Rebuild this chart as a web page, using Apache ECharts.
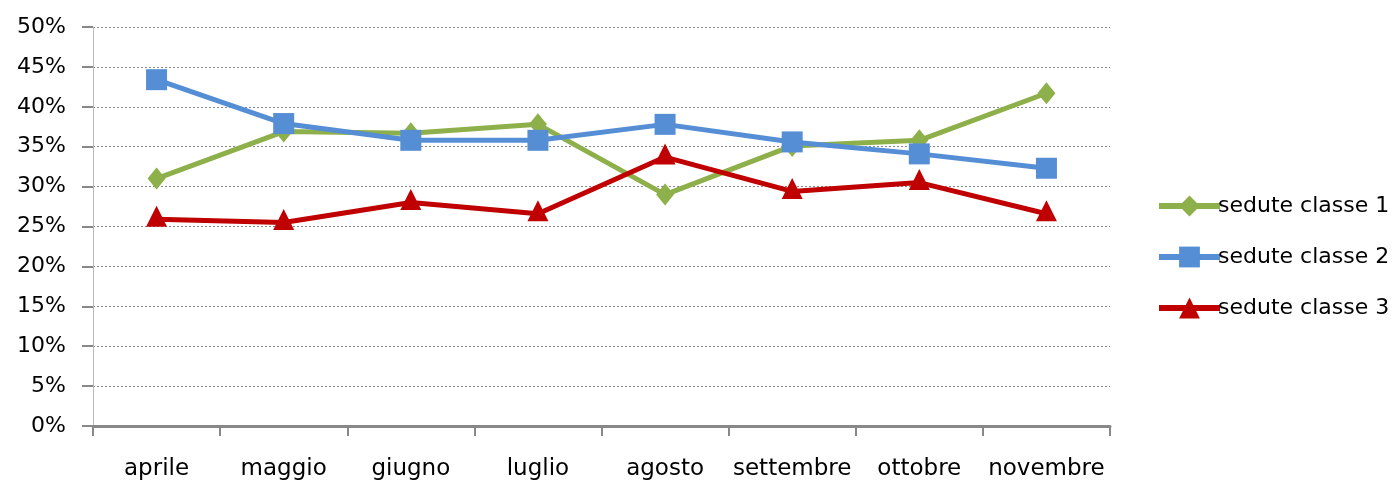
<!DOCTYPE html>
<html>
<head>
<meta charset="utf-8">
<script src="https://cdn.jsdelivr.net/npm/echarts@6/dist/echarts.min.js"></script>
<style>
  html, body { margin: 0; padding: 0; background: #fff; }
  #main { width: 1394px; height: 484px; }
</style>
</head>
<body>
<div id="main"></div>
<script>
// mesi
var months = ["aprile", "maggio", "giugno", "luglio", "agosto", "settembre", "ottobre", "novembre"];
// percentuali
var classe1 = [31.0, 36.9, 36.7, 37.8, 29.0, 35.1, 35.8, 41.7];
var classe2 = [43.4, 37.9, 35.8, 35.8, 37.8, 35.6, 34.1, 32.3];
var classe3 = [25.9, 25.5, 28.0, 26.6, 33.7, 29.4, 30.5, 26.6];

var myChart = echarts.init(document.getElementById("main"));
var font = "DejaVu Sans";

myChart.setOption({
  animation: false,
  textStyle: { fontFamily: font },
  grid: { left: 93, right: 284, top: 27, bottom: 58 },
  legend: {
    orient: "vertical",
    left: 1151,
    top: 190,
    itemWidth: 61,
    itemHeight: 26,
    itemGap: 29,
    lineStyle: { width: 6 },
    textStyle: { fontSize: 22, color: "#000", fontFamily: font, padding: [0, 0, 0, -7] },
    data: ["sedute classe 1", "sedute classe 2", "sedute classe 3"]
  },
  xAxis: {
    type: "category",
    data: months,
    boundaryGap: true,
    axisLine: { lineStyle: { color: "#888", width: 3 } },
    axisTick: { show: true, interval: 0, length: 10, lineStyle: { color: "#888", width: 2 } },
    axisLabel: { interval: 0, fontSize: 23, color: "#000", margin: 32, fontFamily: font }
  },
  yAxis: {
    type: "value",
    min: 0,
    max: 50,
    interval: 5,
    axisLine: { show: true, lineStyle: { color: "#bbb", width: 1 } },
    axisTick: { show: true, length: 11, lineStyle: { color: "#888", width: 2 } },
    axisLabel: { fontSize: 22, color: "#000", margin: 27, formatter: "{value}%", fontFamily: font },
    splitLine: { lineStyle: { color: "#888", type: [2, 2], width: 1 } }
  },
  series: [
    {
      name: "sedute classe 1",
      type: "line",
      data: classe1,
      symbol: "diamond",
      symbolSize: [18, 22],
      lineStyle: { width: 5, color: "#8DB04A" },
      itemStyle: { color: "#8DB04A" }
    },
    {
      name: "sedute classe 2",
      type: "line",
      data: classe2,
      symbol: "rect",
      symbolSize: 21,
      lineStyle: { width: 5, color: "#558ED5" },
      itemStyle: { color: "#558ED5" }
    },
    {
      name: "sedute classe 3",
      type: "line",
      data: classe3,
      symbol: "triangle",
      symbolSize: 21,
      symbolOffset: [0, -3],
      lineStyle: { width: 5, color: "#C00000" },
      itemStyle: { color: "#C00000" }
    }
  ]
});
</script>
</body>
</html>
